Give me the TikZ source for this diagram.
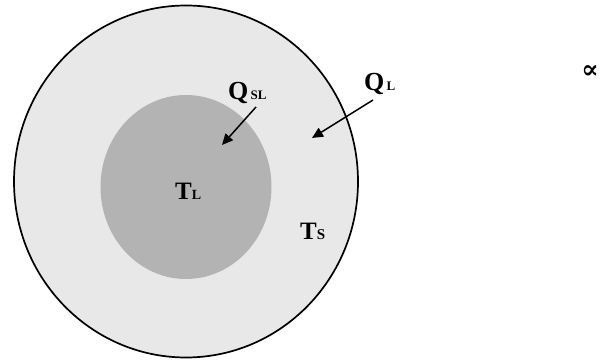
\documentclass[tikz,border=0pt]{standalone}
\usepackage{fontspec}
\setmainfont{Liberation Serif}
\newfontfamily\symbolfont{DejaVu Serif}
\usetikzlibrary{shapes.geometric,arrows.meta}
\definecolor{outerfill}{HTML}{E8E8E8}
\definecolor{innerfill}{HTML}{B3B3B3}
\begin{document}
\begin{tikzpicture}[x=1pt,y=-1pt,
  region/.style={ellipse,inner sep=0pt,outer sep=0pt},
  lbl/.style={inner sep=0pt,anchor=base west,font=\bfseries},
  flow/.style={line width=1.5pt,-{Triangle[length=11pt,width=10pt]}}]
\useasboundingbox (0,0) rectangle (600,363);
\node[region,draw=black,line width=1.7pt,fill=outerfill,minimum width=344pt,minimum height=352pt] (outer) at (186,181.5) {};
\node[region,fill=innerfill,minimum width=171pt,minimum height=184pt] (inner) at (186,187) {};
\node[lbl] (qsl) at (228,100) {\fontsize{26}{26}\selectfont Q\fontsize{13}{13}\selectfont\,SL};
\node[lbl] (ql) at (364,91) {\fontsize{26}{26}\selectfont Q\fontsize{13}{13}\selectfont\,L};
\node[lbl] (tl) at (175,200) {\fontsize{25}{25}\selectfont T\fontsize{14}{14}\selectfont L};
\node[lbl] (ts) at (300,240) {\fontsize{25}{25}\selectfont T\fontsize{15}{15}\selectfont S};
\node[inner sep=0pt,anchor=base east] (prop) at (599,78.5) {\symbolfont\bfseries\fontsize{26}{26}\selectfont ∝};
\coordinate (qslstart) at (256,107);
\coordinate (qsltip) at (222,145);
\coordinate (qlstart) at (373,100);
\coordinate (qltip) at (312,138);
\draw[flow] (qslstart) -- (qsltip);
\draw[flow] (qlstart) -- (qltip);
\end{tikzpicture}
\end{document}
